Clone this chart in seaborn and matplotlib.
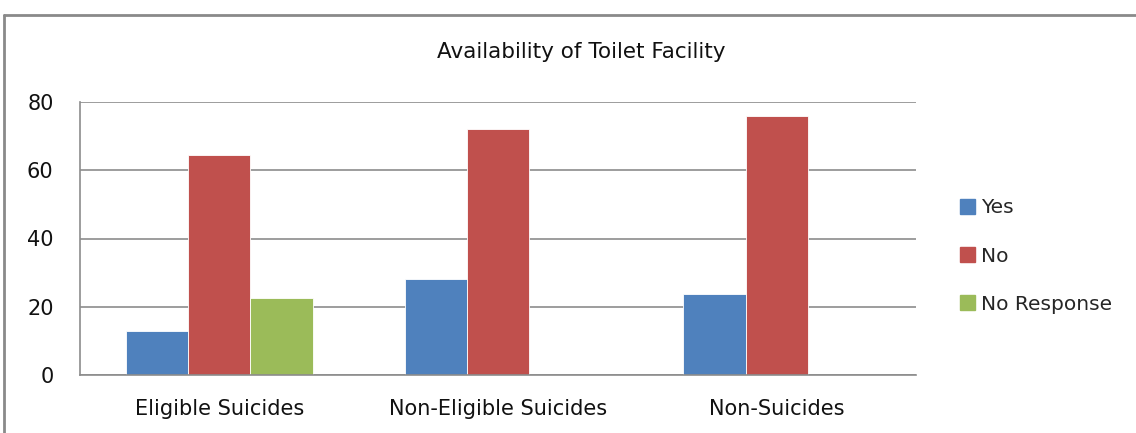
import pandas as pd
import matplotlib.pyplot as plt
import seaborn as sns
from matplotlib.lines import Line2D

# data
categories = ["Eligible Suicides", "Non-Eligible Suicides", "Non-Suicides"]
responses = ["Yes", "No", "No Response"]
yes_vals = [13.0, 28.0, 23.8]
no_vals = [64.6, 72.1, 75.9]
no_resp_vals = [22.7, 0.0, 0.0]
y_ticks = [0, 20, 40, 60, 80]

colors = ["#4F81BD", "#C0504D", "#9BBB59"]

rows = []
for resp, vals in zip(responses, [yes_vals, no_vals, no_resp_vals]):
    for cat, v in zip(categories, vals):
        rows.append({"category": cat, "response": resp, "value": v})
df = pd.DataFrame(rows)

sns.set_style("white")
plt.rcParams["font.family"] = ["DejaVu Sans"]

fig = plt.figure(figsize=(11.36, 4.33), dpi=100)
ax = fig.add_axes([80 / 1136, 1 - 375 / 433, 836 / 1136, 273 / 433])

sns.barplot(data=df, x="category", y="value", hue="response", order=categories,
            hue_order=responses, palette=colors, saturation=1, width=0.67,
            edgecolor="white", linewidth=0.6, ax=ax, errorbar=None)

ax.set_ylim(0, 80)
ax.set_yticks(y_ticks)
ax.set_xlim(-0.5, 2.5)
ax.yaxis.grid(True, color="#8c8c8c", linewidth=1.2)
ax.set_axisbelow(True)
for s in ["top", "right"]:
    ax.spines[s].set_visible(False)
for s in ["left", "bottom"]:
    ax.spines[s].set_color("#8c8c8c")
    ax.spines[s].set_linewidth(1.2)
ax.tick_params(axis="y", length=0, pad=19, labelsize=15, colors="#111111")
ax.tick_params(axis="x", length=0, pad=17, labelsize=15, colors="#111111")
ax.set_xlabel("")
ax.set_ylabel("")

ax.legend_.remove()
handles = [plt.Rectangle((0, 0), 1, 1, color=c) for c in colors]
fig.legend(handles, responses, loc="center left", bbox_to_anchor=(942 / 1136, 1 - 256 / 433),
           frameon=False, fontsize=14.5, handlelength=0.75, handleheight=0.75,
           handletextpad=0.3, labelspacing=1.45)

fig.text(581 / 1136, 1 - 52 / 433, "Availability of Toilet Facility", ha="center",
         va="center", fontsize=15.5, color="#111111")

# outer chart border (top and left edges visible in the crop)
fig.add_artist(Line2D([4 / 1136, 4 / 1136], [0, 1 - 15 / 433], transform=fig.transFigure,
                      color="#8a8a8a", linewidth=2))
fig.add_artist(Line2D([4 / 1136, 1], [1 - 15 / 433, 1 - 15 / 433], transform=fig.transFigure,
                      color="#8a8a8a", linewidth=2))

fig.savefig("out.png", dpi=100)
